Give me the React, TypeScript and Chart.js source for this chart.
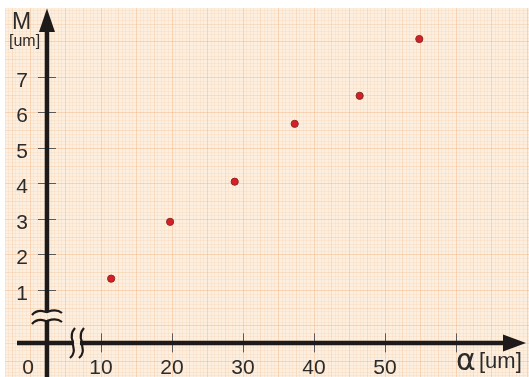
import React, { useEffect, useRef } from "react";
import { Chart, registerables } from "chart.js";

Chart.register(...registerables);

// ---- data ----
const alphaValues = [11.5, 19.8, 28.9, 37.35, 46.5, 54.9];
const mValues = [1.32, 2.92, 4.05, 5.68, 6.47, 8.07];
const xTickValues = [10, 20, 30, 40, 50, 60];
const xTickLabels = ["10", "20", "30", "40", "50", ""];
const yTickValues = [1, 2, 3, 4, 5, 6, 7];
const yTickLabels = ["1", "2", "3", "4", "5", "6", "7"];
const xOriginLabel = "0";
const xAxisTitle = "α";
const xAxisUnit = "[um]";
const yAxisTitle = "M";
const yAxisUnit = "[um]";

// ---- scale setup ----
const X_MIN = -4.155;
const X_MAX = 70.35;
const Y_MIN = -1.451;
const Y_MAX = 9.169;
const Y_AXIS_AT_X = 2.46; // where the vertical axis crosses
const X_AXIS_AT_Y = -0.49; // where the horizontal axis crosses

const FONT = "'Liberation Sans', Arial, Helvetica, sans-serif";

const paperPlugin = {
  id: "paper",
  beforeDraw(chart: any) {
    const { ctx } = chart;
    const xs = chart.scales.x;
    const ys = chart.scales.y;
    const left = 5, top = 8, right = chart.width, bottom = chart.height;
    ctx.save();
    ctx.fillStyle = "#fdefe0";
    ctx.fillRect(left, top, right - left, bottom - top);
    ctx.beginPath();
    ctx.rect(left, top, right - left, bottom - top);
    ctx.clip();
    const colFor = (idx: number) => {
      if (idx % 10 === 0) return "rgba(240,175,120,0.42)";
      if (idx % 5 === 0) return "rgba(243,185,135,0.32)";
      return "rgba(246,200,160,0.22)";
    };
    for (let v = Math.ceil(X_MIN * 2) / 2; v <= X_MAX; v += 0.5) {
      const px = Math.round(xs.getPixelForValue(v)) + 0.5;
      ctx.strokeStyle = colFor(Math.round(v * 2));
      ctx.lineWidth = 1;
      ctx.beginPath();
      ctx.moveTo(px, top);
      ctx.lineTo(px, bottom);
      ctx.stroke();
    }
    for (let v = Math.ceil(Y_MIN * 10) / 10; v <= Y_MAX; v += 0.1) {
      const py = Math.round(ys.getPixelForValue(v)) + 0.5;
      ctx.strokeStyle = colFor(Math.round(v * 10));
      ctx.lineWidth = 1;
      ctx.beginPath();
      ctx.moveTo(left, py);
      ctx.lineTo(right, py);
      ctx.stroke();
    }
    ctx.restore();
  },
};

const axesPlugin = {
  id: "customAxes",
  beforeDatasetsDraw(chart: any) {
    const { ctx } = chart;
    const xs = chart.scales.x;
    const ys = chart.scales.y;
    const ax = xs.getPixelForValue(Y_AXIS_AT_X);
    const ay = ys.getPixelForValue(X_AXIS_AT_Y);
    ctx.save();

    // tick marks
    ctx.strokeStyle = "#5a5a5a";
    ctx.lineWidth = 1;
    yTickValues.forEach((v) => {
      const py = Math.round(ys.getPixelForValue(v)) + 0.5;
      ctx.beginPath();
      ctx.moveTo(ax - 9, py);
      ctx.lineTo(ax + 9, py);
      ctx.stroke();
    });
    xTickValues.forEach((v) => {
      const px = Math.round(xs.getPixelForValue(v)) + 0.5;
      ctx.beginPath();
      ctx.moveTo(px, ay - 9.5);
      ctx.lineTo(px, ay + 9.5);
      ctx.stroke();
    });

    // axis lines
    ctx.strokeStyle = "#1f1a1a";
    ctx.fillStyle = "#1f1a1a";
    ctx.lineWidth = 4.5;
    const yBreakTop = 312;
    const yBreakBot = 321;
    ctx.beginPath();
    ctx.moveTo(ax, 28);
    ctx.lineTo(ax, yBreakTop);
    ctx.moveTo(ax, yBreakBot);
    ctx.lineTo(ax, chart.height);
    ctx.stroke();
    const xBreakL = 74;
    const xBreakR = 80;
    ctx.beginPath();
    ctx.moveTo(17, ay);
    ctx.lineTo(xBreakL, ay);
    ctx.moveTo(xBreakR, ay);
    ctx.lineTo(506, ay);
    ctx.stroke();

    // arrowheads
    ctx.beginPath();
    ctx.moveTo(ax, 8.5);
    ctx.lineTo(ax + 8, 32);
    ctx.lineTo(ax - 8, 32);
    ctx.closePath();
    ctx.fill();
    ctx.beginPath();
    ctx.moveTo(526, ay);
    ctx.lineTo(503, ay - 8.5);
    ctx.lineTo(503, ay + 8.5);
    ctx.closePath();
    ctx.fill();

    // break marks
    ctx.lineWidth = 2.2;
    [yBreakTop, yBreakBot].forEach((yy) => {
      ctx.beginPath();
      ctx.moveTo(32, yy + 3);
      ctx.bezierCurveTo(39, yy - 5, 46, yy + 1, ax, yy);
      ctx.bezierCurveTo(50, yy - 1, 56, yy - 4, 62, yy + 1);
      ctx.stroke();
    });
    [xBreakL - 1, xBreakR + 2].forEach((xx) => {
      ctx.beginPath();
      ctx.moveTo(xx + 2, 328);
      ctx.bezierCurveTo(xx - 5, 336, xx + 1, 342, xx, ay);
      ctx.bezierCurveTo(xx - 1, 346, xx + 4, 352, xx - 3, 358);
      ctx.stroke();
    });

    // tick labels
    ctx.fillStyle = "#2b2b2b";
    ctx.font = `21px ${FONT}`;
    ctx.textAlign = "right";
    ctx.textBaseline = "middle";
    yTickValues.forEach((v, i) => {
      const py = ys.getPixelForValue(v);
      ctx.fillText(yTickLabels[i], 28, py + 4);
    });
    ctx.textAlign = "center";
    ctx.textBaseline = "alphabetic";
    xTickValues.forEach((v, i) => {
      if (!xTickLabels[i]) return;
      const px = xs.getPixelForValue(v);
      ctx.fillText(xTickLabels[i], px + 0.5, 374);
    });
    ctx.fillText(xOriginLabel, xs.getPixelForValue(0) - 1.5, 374);

    // axis titles
    ctx.textAlign = "left";
    ctx.font = `23px ${FONT}`;
    ctx.fillText(yAxisTitle, 12, 29);
    ctx.font = `16px ${FONT}`;
    ctx.fillText(yAxisUnit, 9, 46);
    ctx.font = `30px 'DejaVu Sans', sans-serif`;
    ctx.fillText(xAxisTitle, 456, 370);
    ctx.font = `22px ${FONT}`;
    ctx.fillText(xAxisUnit, 479, 368);

    ctx.restore();
  },
};

export default function App() {
  const ref = useRef<HTMLCanvasElement | null>(null);
  useEffect(() => {
    if (!ref.current) return;
    const chart = new Chart(ref.current, {
      type: "scatter",
      data: {
        datasets: [
          {
            data: alphaValues.map((x, i) => ({ x, y: mValues[i] })),
            pointRadius: 3.6,
            pointBackgroundColor: "#d61f24",
            pointBorderColor: "#8a2b2b",
            pointBorderWidth: 1,
          },
        ],
      },
      options: {
        responsive: false,
        animation: false,
        devicePixelRatio: 1,
        layout: { padding: 0, autoPadding: false },
        plugins: { legend: { display: false }, tooltip: { enabled: false } },
        scales: {
          x: { type: "linear", min: X_MIN, max: X_MAX, display: false },
          y: { type: "linear", min: Y_MIN, max: Y_MAX, display: false },
        },
      },
      plugins: [paperPlugin, axesPlugin],
    });
    return () => chart.destroy();
  }, []);
  return (
    <div style={{ position: "absolute", left: 0, top: 0, width: 529, height: 377, background: "#fff" }}>
      <canvas ref={ref} width={529} height={377} style={{ display: "block" }} />
    </div>
  );
}
